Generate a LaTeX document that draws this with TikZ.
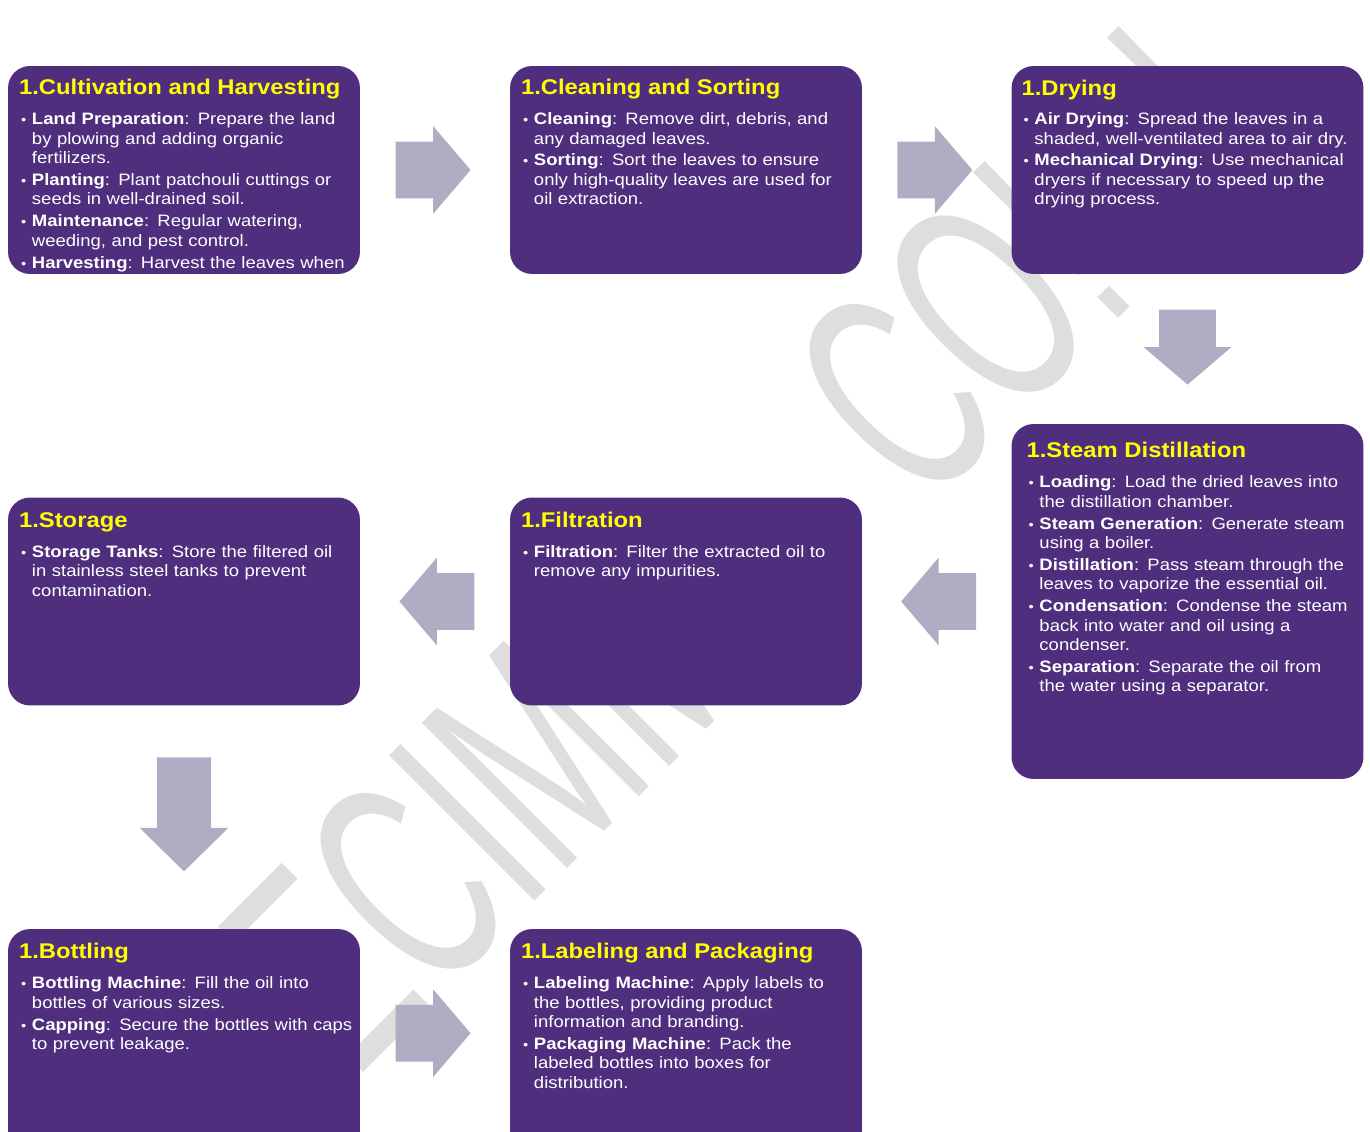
\documentclass[tikz,border=0pt]{standalone}
\usepackage{fontspec}
\usepackage{graphicx}
\setmainfont[FakeStretch=1.12]{Liberation Sans}
\newfontfamily\markfont{Liberation Sans}
\usetikzlibrary{positioning, shapes.arrows, calc}

\definecolor{stagefill}{RGB}{79,46,126}
\definecolor{titleyellow}{RGB}{255,255,0}
\definecolor{flowgray}{RGB}{177,172,196}
\definecolor{markgray}{RGB}{222,222,222}

% one bullet of a stage, with hanging indent
\newcommand{\stageitem}[2]{\hangindent=6.8pt\hangafter=1\noindent\makebox[6.8pt][l]{\hspace{0.6pt}\scalebox{0.8}{\textbullet}}\textbf{#1}: #2\par}
\newcommand{\stagegap}{\vspace{1.4pt}}

\begin{document}
\begin{tikzpicture}[
    x=0.02cm, y=-0.02cm,
    stage/.style={
        rectangle,
        rounded corners=0.44cm,
        fill=stagefill,
        minimum width=7.04cm,
        minimum height=4.16cm,
        inner sep=0pt
    },
    stagetitle/.style={
        anchor=base west,
        inner sep=0pt,
        text=titleyellow,
        font=\fontsize{12.1}{14}\selectfont\bfseries
    },
    stagebody/.style={
        anchor=base west,
        inner sep=0pt,
        text width=6.9cm,
        align=left,
        text=white,
        font=\fontsize{9.4}{11.06}\selectfont
    },
    flow/.style={
        single arrow,
        fill=flowgray,
        draw=none,
        inner xsep=0pt,
        inner ysep=0.56cm,
        minimum height=1.5cm,
        single arrow head extend=0.31cm,
        single arrow tip angle=99,
        single arrow head indent=0pt
    },
    longflow/.style={
        flow,
        inner ysep=0.53cm,
        minimum height=2.28cm,
        single arrow head extend=0.35cm,
        single arrow tip angle=91
    },
    watermark/.style={
        transform shape,
        inner sep=0pt,
        text=markgray,
        font=\fontsize{170}{170}\markfont
    }
]

    \clip (0,0) rectangle (1370,1132);

    % watermark
    \begin{scope}[shift={(353,1083)}, cm={0.410,0.410,-0.707,0.707,(0,0)}]
        \node[watermark, anchor=base west] (wm) at (0,0) {ECIMM\hspace{225pt}CO!\hspace{139.3pt}!};
    \end{scope}

    % --- Row 1 ---
    \node[stage] (cult) at (184,170) {};
    \begin{scope}
        \clip[rounded corners=0.44cm] (cult.north west) rectangle (cult.south east);
        \node[stagetitle] (cult_t) at ([shift={(11,29)}]cult.north west) {1.Cultivation and Harvesting};
        \node[stagebody] (cult_b) at ([shift={(12,59)}]cult.north west) {%
            \stageitem{Land Preparation}{Prepare the land\newline by plowing and adding organic\newline fertilizers.}\stagegap
            \stageitem{Planting}{Plant patchouli cuttings or\newline seeds in well-drained soil.}\stagegap
            \stageitem{Maintenance}{Regular watering,\newline weeding, and pest control.}\stagegap
            \stageitem{Harvesting}{Harvest the leaves when}};
    \end{scope}

    \node[stage] (clean) at (686,170) {};
    \node[stagetitle] (clean_t) at ([shift={(11,29)}]clean.north west) {1.Cleaning and Sorting};
    \node[stagebody] (clean_b) at ([shift={(12,59)}]clean.north west) {%
        \stageitem{Cleaning}{Remove dirt, debris, and\newline any damaged leaves.}\stagegap
        \stageitem{Sorting}{Sort the leaves to ensure\newline only high-quality leaves are used for\newline oil extraction.}};

    \node[stage] (dry) at (1187.5,170) {};
    \node[stagetitle] (dry_t) at ([shift={(10,30)}]dry.north west) {1.Drying};
    \node[stagebody] (dry_b) at ([shift={(11,59)}]dry.north west) {%
        \stageitem{Air Drying}{Spread the leaves in a\newline shaded, well-ventilated area to air dry.}\stagegap
        \stageitem{Mechanical Drying}{Use mechanical\newline dryers if necessary to speed up the\newline drying process.}};

    % --- Row 2 ---
    \node[stage, minimum height=7.1cm] (steam) at (1187.5,601.5) {};
    \node[stagetitle] (steam_t) at ([shift={(15,34)}]steam.north west) {1.Steam Distillation};
    \node[stagebody] (steam_b) at ([shift={(16,64)}]steam.north west) {%
        \stageitem{Loading}{Load the dried leaves into\newline the distillation chamber.}\stagegap
        \stageitem{Steam Generation}{Generate steam\newline using a boiler.}\stagegap
        \stageitem{Distillation}{Pass steam through the\newline leaves to vaporize the essential oil.}\stagegap
        \stageitem{Condensation}{Condense the steam\newline back into water and oil using a\newline condenser.}\stagegap
        \stageitem{Separation}{Separate the oil from\newline the water using a separator.}};

    \node[stage] (filt) at (686,601.5) {};
    \node[stagetitle] (filt_t) at ([shift={(11,30)}]filt.north west) {1.Filtration};
    \node[stagebody] (filt_b) at ([shift={(12,60)}]filt.north west) {%
        \stageitem{Filtration}{Filter the extracted oil to\newline remove any impurities.}};

    \node[stage] (store) at (184,601.5) {};
    \node[stagetitle] (store_t) at ([shift={(11,30)}]store.north west) {1.Storage};
    \node[stagebody] (store_b) at ([shift={(12,60)}]store.north west) {%
        \stageitem{Storage Tanks}{Store the filtered oil\newline in stainless steel tanks to prevent\newline contamination.}};

    % --- Row 3 ---
    \node[stage, minimum height=4.8cm] (bottle) at (184,1049) {};
    \node[stagetitle] (bottle_t) at ([shift={(11,30)}]bottle.north west) {1.Bottling};
    \node[stagebody] (bottle_b) at ([shift={(12,60)}]bottle.north west) {%
        \stageitem{Bottling Machine}{Fill the oil into\newline bottles of various sizes.}\stagegap
        \stageitem{Capping}{Secure the bottles with caps\newline to prevent leakage.}};

    \node[stage, minimum height=4.8cm] (label) at (686,1049) {};
    \node[stagetitle] (label_t) at ([shift={(11,30)}]label.north west) {1.Labeling and Packaging};
    \node[stagebody] (label_b) at ([shift={(12,60)}]label.north west) {%
        \stageitem{Labeling Machine}{Apply labels to\newline the bottles, providing product\newline information and branding.}\stagegap
        \stageitem{Packaging Machine}{Pack the\newline labeled bottles into boxes for\newline distribution.}};

    % --- Flow arrows ---
    \node[flow] (f1) at ($(cult.east)!0.5!(clean.west)+(-14,0)$) {};
    \node[flow] (f2) at ($(clean.east)!0.5!(dry.west)+(-14,0)$) {};
    \node[flow, rotate=-90] (f3) at ($(dry.south)!0.5!(steam.north)+(0,-14)$) {};
    \node[flow, rotate=180] (f4) at ($(steam.west)!0.5!(filt.east)+(14,0)$) {};
    \node[flow, rotate=180] (f5) at ($(filt.west)!0.5!(store.east)+(14,0)$) {};
    \node[longflow, rotate=-90] (f6) at ($(store.south)!0.5!(bottle.north)+(0,-16)$) {};
    \node[flow] (f7) at ($(bottle.north east)!0.5!(label.north west)+(-14,104.5)$) {};

\end{tikzpicture}
\end{document}
